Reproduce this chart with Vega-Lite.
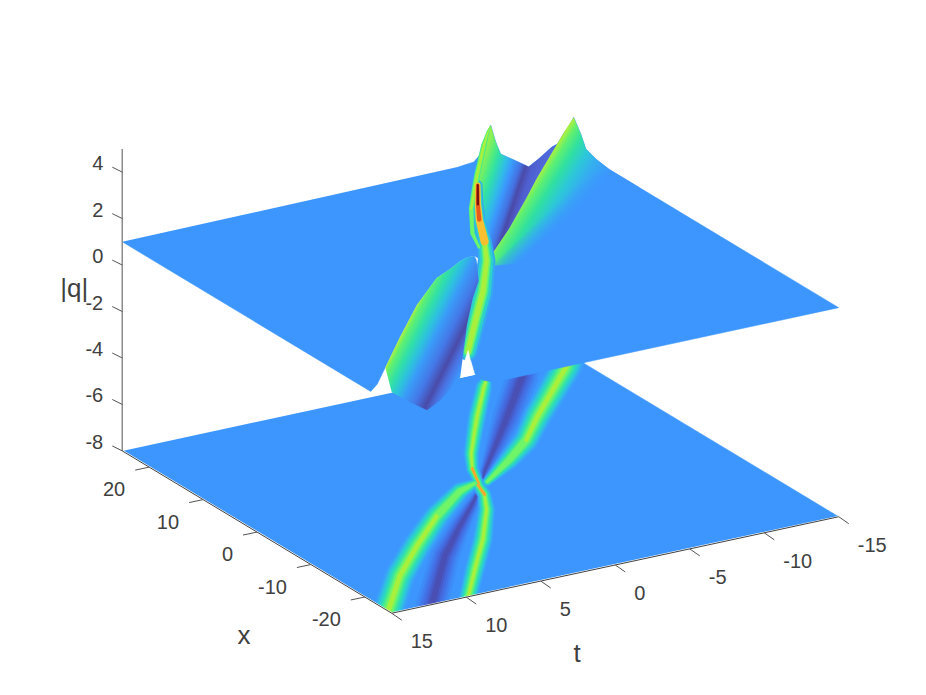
{"$schema":"https://vega.github.io/schema/vega-lite/v6.json","width":926,"height":695,"padding":0,"autosize":{"type":"fit","contains":"padding"},"background":"white","config":{"view":{"stroke":null}},
"data":{"values":[
{"s":"floor","i":0,"t":15,"x":25,"q":-8},{"s":"floor","i":1,"t":15,"x":-25,"q":-8},{"s":"floor","i":2,"t":-15,"x":-25,"q":-8},{"s":"floor","i":3,"t":-15,"x":25,"q":-8},
{"s":"m1","i":0,"t":15,"x":30,"q":-8},{"s":"m1","i":1,"t":15,"x":-25,"q":-8},{"s":"m1","i":2,"t":20,"x":-25,"q":-8},{"s":"m1","i":3,"t":20,"x":30,"q":-8},
{"s":"m2","i":0,"t":20,"x":-25,"q":-8},{"s":"m2","i":1,"t":-15,"x":-25,"q":-8},{"s":"m2","i":2,"t":-15,"x":-29,"q":-8},{"s":"m2","i":3,"t":20,"x":-29,"q":-8},
{"s":"A","i":0,"t":15.3,"x":-25,"q":2.4,"w":1},{"s":"A","i":1,"t":11.53,"x":-16.9,"q":2.3,"w":0.95},{"s":"A","i":2,"t":8.25,"x":-11,"q":2.38,"w":0.9},{"s":"A","i":3,"t":4.83,"x":-5.21,"q":2.25,"w":0.8},{"s":"A","i":4,"t":1.66,"x":-0.71,"q":1.9,"w":0.6},{"s":"A","i":5,"t":0.27,"x":0.36,"q":1.8,"w":0.3},
{"s":"B","i":0,"t":9.95,"x":-25.2,"q":2.6,"w":0.6},{"s":"B","i":1,"t":7.25,"x":-19,"q":2.6,"w":0.65},{"s":"B","i":2,"t":4.42,"x":-12.66,"q":2.65,"w":0.65},{"s":"B","i":3,"t":1.79,"x":-6.09,"q":2.7,"w":0.55},{"s":"B","i":4,"t":0.67,"x":-2.61,"q":2.9,"w":0.45},{"s":"B","i":5,"t":0.3,"x":-0.6,"q":3.5,"w":0.4},{"s":"B","i":6,"t":0.25,"x":-0.2,"q":4.1,"w":0.35},{"s":"B","i":7,"t":0.22,"x":-0.1,"q":4.9,"w":0.3},
{"s":"C","i":0,"t":0.05,"x":0.15,"q":2.17,"h":3.6,"w":0.3},{"s":"C","i":1,"t":-0.84,"x":3.84,"q":2.13,"h":2.95,"w":0.42},{"s":"C","i":2,"t":-2.01,"x":7.27,"q":2.55,"w":0.5},{"s":"C","i":3,"t":-3.78,"x":11.63,"q":2.45,"w":0.55},{"s":"C","i":4,"t":-5.31,"x":15.32,"q":2.4,"w":0.6},{"s":"C","i":5,"t":-8.09,"x":21.74,"q":2.4,"w":0.55},{"s":"C","i":6,"t":-9.3,"x":24.3,"q":2.5,"w":0.25},{"s":"C","i":7,"t":-9.73,"x":25,"q":2.6,"w":0.02},
{"s":"D","i":0,"t":-0.53,"x":0.18,"q":1.5,"w":0.3},{"s":"D","i":1,"t":-3.4,"x":4.06,"q":1.95,"w":0.65},{"s":"D","i":2,"t":-5.87,"x":7.73,"q":2.4,"w":0.8},{"s":"D","i":3,"t":-8.28,"x":12.38,"q":2.3,"w":0.9},{"s":"D","i":4,"t":-13.77,"x":22.23,"q":2.25,"w":1},{"s":"D","i":5,"t":-14.9,"x":24.6,"q":2.25,"w":1},
{"s":"E","i":0,"t":12.3,"x":-25,"q":0.3,"w":1},{"s":"E","i":1,"t":7.68,"x":-14.62,"q":0.3,"w":0.9},{"s":"E","i":2,"t":4.5,"x":-8.6,"q":0.4,"w":0.65},{"s":"E","i":3,"t":1.99,"x":-4.05,"q":0.6,"w":0.4},{"s":"E","i":4,"t":0.2,"x":-0.6,"q":0.8,"w":0.1},
{"s":"F","i":0,"t":-0.6,"x":1.2,"q":0.8,"w":0.1},{"s":"F","i":1,"t":-1.2,"x":2.58,"q":0.7,"w":0.3},{"s":"F","i":2,"t":-4.06,"x":8.3,"q":0.4,"w":0.65},{"s":"F","i":3,"t":-6.79,"x":13.85,"q":0.3,"w":0.9},{"s":"F","i":4,"t":-10.78,"x":22.13,"q":0.3,"w":1},{"s":"F","i":5,"t":-12,"x":25,"q":0.3,"w":1},
{"s":"plate","i":0,"t":15,"x":25,"q":1},{"s":"plate","i":1,"t":15,"x":-21.1,"q":1},{"s":"plate","i":2,"t":15,"x":-22.3,"q":1.48},{"s":"plate","i":3,"t":15,"x":-23.8,"q":2.41},{"s":"plate","i":4,"t":11.53,"x":-16.9,"q":2.26},{"s":"plate","i":5,"t":8.25,"x":-11,"q":2.38},{"s":"plate","i":6,"t":4.83,"x":-5.21,"q":2.26},{"s":"plate","i":6.5,"t":3.13,"x":-3.01,"q":2.1},{"s":"plate","i":7,"t":1.66,"x":-0.71,"q":1.9},{"s":"plate","i":7.5,"t":0.85,"x":0.17,"q":1.85},{"s":"plate","i":8,"t":0.27,"x":0.36,"q":1.79},{"s":"plate","i":9,"t":1.79,"x":-6.09,"q":2.6},{"s":"plate","i":10,"t":4.42,"x":-12.66,"q":2.68},{"s":"plate","i":11,"t":7.25,"x":-19,"q":2.6},{"s":"plate","i":12,"t":9.87,"x":-25,"q":2.6},{"s":"plate","i":13,"t":9.4,"x":-25,"q":1.51},{"s":"plate","i":14,"t":8.86,"x":-25,"q":1.18},{"s":"plate","i":15,"t":8.19,"x":-25,"q":1},{"s":"plate","i":16,"t":-15,"x":-25,"q":1},{"s":"plate","i":17,"t":-15,"x":17.6,"q":1},{"s":"plate","i":18,"t":-15,"x":20.06,"q":1.1},{"s":"plate","i":19,"t":-15,"x":21.9,"q":1.27},{"s":"plate","i":20,"t":-15,"x":22.85,"q":1.79},{"s":"plate","i":21,"t":-14.94,"x":24,"q":2.36},{"s":"plate","i":22,"t":-14.43,"x":25,"q":1.22},{"s":"plate","i":23,"t":-13.83,"x":25,"q":1.09},{"s":"plate","i":24,"t":-12.95,"x":25,"q":0.7},{"s":"plate","i":25,"t":-12.28,"x":25,"q":0.45},{"s":"plate","i":26,"t":-11.41,"x":25,"q":0.83},{"s":"plate","i":27,"t":-10.4,"x":25,"q":1.26},{"s":"plate","i":28,"t":-10.07,"x":25,"q":1.82},{"s":"plate","i":29,"t":-9.73,"x":25,"q":2.6},{"s":"plate","i":30,"t":-9.06,"x":25,"q":1.45},{"s":"plate","i":31,"t":-8.59,"x":25,"q":1.17},{"s":"plate","i":32,"t":-7.58,"x":25,"q":1.1},
{"s":"swS","i":0,"t":-9.73,"x":25,"q":2.6},{"s":"swS","i":1,"t":-8.09,"x":21.74,"q":2.4},{"s":"swS","i":2,"t":-5.31,"x":15.32,"q":2.4},{"s":"swS","i":3,"t":-3.78,"x":11.63,"q":2.45},{"s":"swS","i":4,"t":-2.01,"x":7.27,"q":2.55},{"s":"swS","i":5,"t":-0.84,"x":3.84,"q":2.13},{"s":"swS","i":6,"t":-0.29,"x":0.33,"q":1.5},{"s":"swS","i":7,"t":-0.53,"x":0.18,"q":1.5},{"s":"swS","i":8,"t":-3.4,"x":4.06,"q":1.95},{"s":"swS","i":9,"t":-5.87,"x":7.73,"q":2.4},{"s":"swS","i":10,"t":-8.28,"x":12.38,"q":2.3},{"s":"swS","i":11,"t":-13.77,"x":22.23,"q":2.25},{"s":"swS","i":12,"t":-14.43,"x":25,"q":1.22},{"s":"swS","i":13,"t":-13.83,"x":25,"q":1.09},{"s":"swS","i":14,"t":-12.95,"x":25,"q":0.7},{"s":"swS","i":15,"t":-12.28,"x":25,"q":0.45},{"s":"swS","i":16,"t":-11.41,"x":25,"q":0.83},{"s":"swS","i":17,"t":-10.4,"x":25,"q":1.26},{"s":"swS","i":18,"t":-10.07,"x":25,"q":1.82},
{"s":"swD","i":0,"t":-14.94,"x":24,"q":2.36},{"s":"swD","i":1,"t":-15,"x":22.85,"q":1.79},{"s":"swD","i":2,"t":-15,"x":21.9,"q":1.27},{"s":"swD","i":3,"t":-15,"x":20.06,"q":1.1},{"s":"swD","i":4,"t":-15,"x":17.6,"q":1},{"s":"swD","i":5,"t":-15,"x":12.06,"q":1},{"s":"swD","i":6,"t":-5.13,"x":-0.58,"q":1},{"s":"swD","i":7,"t":-1.18,"x":1.5,"q":1},{"s":"swD","i":8,"t":-0.53,"x":0.18,"q":1.5},{"s":"swD","i":9,"t":-3.4,"x":4.06,"q":1.95},{"s":"swD","i":10,"t":-5.87,"x":7.73,"q":2.4},{"s":"swD","i":11,"t":-8.28,"x":12.38,"q":2.3},{"s":"swD","i":12,"t":-13.77,"x":22.23,"q":2.25},
{"s":"fade","i":0,"t":-14.17,"x":18.59,"q":1},{"s":"fade","i":1,"t":-15,"x":12.06,"q":1},{"s":"fade","i":2,"t":-3.67,"x":-4.64,"q":1},{"s":"fade","i":3,"t":-0.75,"x":0.69,"q":1},
{"s":"swA","i":0,"t":15,"x":-23.8,"q":2.41},{"s":"swA","i":1,"t":11.53,"x":-16.9,"q":2.26},{"s":"swA","i":2,"t":8.25,"x":-11,"q":2.38},{"s":"swA","i":3,"t":4.83,"x":-5.21,"q":2.26},{"s":"swA","i":3.5,"t":3.13,"x":-3.01,"q":2.1},{"s":"swA","i":4,"t":1.66,"x":-0.71,"q":1.9},{"s":"swA","i":4.5,"t":0.85,"x":0.17,"q":1.85},{"s":"swA","i":5,"t":0.27,"x":0.36,"q":1.79},{"s":"swA","i":6,"t":0.9,"x":-1.76,"q":2},{"s":"swA","i":7,"t":2.51,"x":-6.6,"q":2},{"s":"swA","i":8,"t":4.18,"x":-10.14,"q":2},{"s":"swA","i":9,"t":6.67,"x":-15.93,"q":2},{"s":"swA","i":10,"t":10.37,"x":-24.9,"q":1.5},{"s":"swA","i":11,"t":10.54,"x":-25,"q":1.41},{"s":"swA","i":12,"t":11.74,"x":-25,"q":0.72},{"s":"swA","i":13,"t":12.62,"x":-25,"q":0.41},{"s":"swA","i":14,"t":13.76,"x":-25,"q":0.91},{"s":"swA","i":15,"t":15,"x":-25,"q":1.51},
{"s":"gap","i":0,"t":-7.58,"x":25,"q":-8},{"s":"gap","i":1,"t":9.87,"x":-25,"q":2.6},{"s":"gap","i":2,"t":-8.59,"x":25,"q":-8},
{"s":"zaxis","i":0,"t":15,"x":25,"q":-8},{"s":"zaxis","i":1,"t":15,"x":25,"q":5},
{"s":"xaxis","i":0,"t":15,"x":25,"q":-8},{"s":"xaxis","i":1,"t":15,"x":-25,"q":-8},
{"s":"taxis","i":0,"t":15,"x":-25,"q":-8},{"s":"taxis","i":1,"t":-15,"x":-25,"q":-8},
{"s":"zt","t":15,"x":25,"q":4,"l":"4"},{"s":"zt","t":15,"x":25,"q":2,"l":"2"},{"s":"zt","t":15,"x":25,"q":0,"l":"0"},{"s":"zt","t":15,"x":25,"q":-2,"l":"-2"},{"s":"zt","t":15,"x":25,"q":-4,"l":"-4"},{"s":"zt","t":15,"x":25,"q":-6,"l":"-6"},{"s":"zt","t":15,"x":25,"q":-8,"l":"-8"},
{"s":"xt","t":15,"x":20,"q":-8,"l":"20"},{"s":"xt","t":15,"x":10,"q":-8,"l":"10"},{"s":"xt","t":15,"x":0,"q":-8,"l":"0"},{"s":"xt","t":15,"x":-10,"q":-8,"l":"-10"},{"s":"xt","t":15,"x":-20,"q":-8,"l":"-20"},
{"s":"tt","t":15,"x":-25,"q":-8,"l":"15"},{"s":"tt","t":10,"x":-25,"q":-8,"l":"10"},{"s":"tt","t":5,"x":-25,"q":-8,"l":"5"},{"s":"tt","t":0,"x":-25,"q":-8,"l":"0"},{"s":"tt","t":-5,"x":-25,"q":-8,"l":"-5"},{"s":"tt","t":-10,"x":-25,"q":-8,"l":"-10"},{"s":"tt","t":-15,"x":-25,"q":-8,"l":"-15"},
{"s":"title","t":15,"x":25,"q":-0.95,"l":"|q|","a":"z"},{"s":"title","t":15,"x":0,"q":-8,"l":"x","a":"x"},{"s":"title","t":2.5,"x":-25,"q":-8,"l":"t","a":"t"}
]},
"transform":[{"calculate":"480.5-14.9*datum.t-5.39*datum.x","as":"sx"},{"calculate":"487.3+3.24*datum.t-3.27*datum.x","as":"fy"},{"calculate":"datum.fy-23.4*(datum.q+8)","as":"ty"},{"calculate":"datum.h||datum.q","as":"hh"}],
"encoding":{"x":{"field":"sx","type":"quantitative","scale":{"domain":[0,926]},"axis":null},"order":{"field":"i"}},
"layer":[
{"transform":[{"filter":"datum.s=='floor'"}],"mark":{"type":"line","fill":"#3c96fe","stroke":"#3c96fe","strokeWidth":0.5},"encoding":{"y":{"field":"ty","type":"quantitative","scale":{"domain":[695,0]},"axis":null}}},
{"transform":[{"filter":"datum.s=='E'||datum.s=='F'"},{"calculate":"datum.w*32","as":"k32"}],"mark":{"type":"trail","color":"#3e8cf8"},"encoding":{"y":{"field":"fy","type":"quantitative"},"detail":{"field":"s"},"size":{"field":"k32","type":"quantitative","scale":null}}},
{"transform":[{"filter":"datum.s=='E'||datum.s=='F'"},{"calculate":"datum.w*26","as":"k26"}],"mark":{"type":"trail","color":"#4080f0"},"encoding":{"y":{"field":"fy","type":"quantitative"},"detail":{"field":"s"},"size":{"field":"k26","type":"quantitative","scale":null}}},
{"transform":[{"filter":"datum.s=='E'||datum.s=='F'"},{"calculate":"datum.w*21","as":"k21"}],"mark":{"type":"trail","color":"#4274e8"},"encoding":{"y":{"field":"fy","type":"quantitative"},"detail":{"field":"s"},"size":{"field":"k21","type":"quantitative","scale":null}}},
{"transform":[{"filter":"datum.s=='E'||datum.s=='F'"},{"calculate":"datum.w*16","as":"k16"}],"mark":{"type":"trail","color":"#4568dc"},"encoding":{"y":{"field":"fy","type":"quantitative"},"detail":{"field":"s"},"size":{"field":"k16","type":"quantitative","scale":null}}},
{"transform":[{"filter":"datum.s=='E'||datum.s=='F'"},{"calculate":"datum.w*11","as":"k11"}],"mark":{"type":"trail","color":"#475bc8"},"encoding":{"y":{"field":"fy","type":"quantitative"},"detail":{"field":"s"},"size":{"field":"k11","type":"quantitative","scale":null}}},
{"transform":[{"filter":"datum.s=='E'||datum.s=='F'"},{"calculate":"datum.w*6","as":"k6"}],"mark":{"type":"trail","color":"#4a4fb4"},"encoding":{"y":{"field":"fy","type":"quantitative"},"detail":{"field":"s"},"size":{"field":"k6","type":"quantitative","scale":null}}},
{"transform":[{"filter":"datum.s<'E'"},{"calculate":"datum.w*32","as":"k32"}],"mark":{"type":"trail","color":"#3a9ffa"},"encoding":{"y":{"field":"fy","type":"quantitative"},"detail":{"field":"s"},"size":{"field":"k32","type":"quantitative","scale":null}}},
{"transform":[{"filter":"datum.s<'E'"},{"calculate":"datum.w*28","as":"k28"}],"mark":{"type":"trail","color":"#36adf0"},"encoding":{"y":{"field":"fy","type":"quantitative"},"detail":{"field":"s"},"size":{"field":"k28","type":"quantitative","scale":null}}},
{"transform":[{"filter":"datum.s<'E'"},{"calculate":"datum.w*25","as":"k25"}],"mark":{"type":"trail","color":"#30bfe2"},"encoding":{"y":{"field":"fy","type":"quantitative"},"detail":{"field":"s"},"size":{"field":"k25","type":"quantitative","scale":null}}},
{"transform":[{"filter":"datum.s<'E'"},{"calculate":"datum.w*22","as":"k22"}],"mark":{"type":"trail","color":"#2dcdd2"},"encoding":{"y":{"field":"fy","type":"quantitative"},"detail":{"field":"s"},"size":{"field":"k22","type":"quantitative","scale":null}}},
{"transform":[{"filter":"datum.s<'E'"},{"calculate":"datum.w*19","as":"k19"}],"mark":{"type":"trail","color":"#2cd8c0"},"encoding":{"y":{"field":"fy","type":"quantitative"},"detail":{"field":"s"},"size":{"field":"k19","type":"quantitative","scale":null}}},
{"transform":[{"filter":"datum.s<'E'"},{"calculate":"datum.w*16.5","as":"k165"}],"mark":{"type":"trail","color":"#34e0ac"},"encoding":{"y":{"field":"fy","type":"quantitative"},"detail":{"field":"s"},"size":{"field":"k165","type":"quantitative","scale":null}}},
{"transform":[{"filter":"datum.s<'E'"},{"calculate":"datum.w*14","as":"k14"}],"mark":{"type":"trail","color":"#40e898"},"encoding":{"y":{"field":"fy","type":"quantitative"},"detail":{"field":"s"},"size":{"field":"k14","type":"quantitative","scale":null}}},
{"transform":[{"filter":"datum.s<'E'"},{"calculate":"datum.w*11.5","as":"k115"}],"mark":{"type":"trail","color":"#56ee80"},"encoding":{"y":{"field":"fy","type":"quantitative"},"detail":{"field":"s"},"size":{"field":"k115","type":"quantitative","scale":null}}},
{"transform":[{"filter":"datum.s<'E'"},{"calculate":"datum.w*9","as":"k9"}],"mark":{"type":"trail","color":"#70f468"},"encoding":{"y":{"field":"fy","type":"quantitative"},"detail":{"field":"s"},"size":{"field":"k9","type":"quantitative","scale":null}}},
{"transform":[{"filter":"datum.s<'E'&&datum.hh>=2.2"},{"calculate":"datum.w*5","as":"k5"}],"mark":{"type":"trail","color":"#a8f03c"},"encoding":{"y":{"field":"fy","type":"quantitative"},"detail":{"field":"s"},"size":{"field":"k5","type":"quantitative","scale":null}}},
{"transform":[{"filter":"datum.s<'E'&&datum.hh>=2.85"},{"calculate":"datum.w*7","as":"k7"}],"mark":{"type":"trail","color":"#f4a830"},"encoding":{"y":{"field":"fy","type":"quantitative"},"detail":{"field":"s"},"size":{"field":"k7","type":"quantitative","scale":null}}},
{"transform":[{"filter":"datum.s=='m1'"}],"mark":{"type":"line","fill":"white","stroke":"white"},"encoding":{"y":{"field":"ty","type":"quantitative"}}},
{"transform":[{"filter":"datum.s=='m2'"}],"mark":{"type":"line","fill":"white","stroke":"white"},"encoding":{"y":{"field":"ty","type":"quantitative"}}},
{"transform":[{"filter":"datum.s=='plate'"}],"mark":{"type":"line","fill":"#3c96fe","stroke":"#3c96fe","strokeWidth":0.5},"encoding":{"y":{"field":"ty","type":"quantitative"}}},
{"transform":[{"filter":"datum.s=='swS'"}],"mark":{"type":"line","strokeWidth":0,"fill":{"gradient":"linear","x1":0,"y1":0,"x2":0.9,"y2":0.43,"stops":[{"offset":0.22,"color":"#90f050"},{"offset":0.3,"color":"#50ec80"},{"offset":0.36,"color":"#30e0a8"},{"offset":0.45,"color":"#30bce8"},{"offset":0.52,"color":"#3c96fd"},{"offset":0.6,"color":"#4470e0"},{"offset":0.65,"color":"#4a4aa8"},{"offset":0.72,"color":"#4f5fd0"},{"offset":0.9,"color":"#5070e0"}]}},"encoding":{"y":{"field":"ty","type":"quantitative"}}},
{"transform":[{"filter":"datum.s=='swD'"}],"mark":{"type":"line","strokeWidth":0,"fill":{"gradient":"linear","x1":0,"y1":0,"x2":0.853,"y2":0.522,"stops":[{"offset":0.49,"color":"#a8f040"},{"offset":0.53,"color":"#60f070"},{"offset":0.6,"color":"#30e0a0"},{"offset":0.68,"color":"#2cc8d8"},{"offset":0.76,"color":"#35aef0"},{"offset":0.88,"color":"#3c96fe"}]}},"encoding":{"y":{"field":"ty","type":"quantitative"}}},
{"transform":[{"filter":"datum.s=='fade'"}],"mark":{"type":"line","strokeWidth":0,"fill":{"gradient":"linear","x1":0,"y1":0,"x2":0.777,"y2":0.63,"stops":[{"offset":0.55,"color":"rgba(60,150,254,0)"},{"offset":0.7,"color":"rgba(60,150,254,1)"}]}},"encoding":{"y":{"field":"ty","type":"quantitative"}}},
{"transform":[{"filter":"datum.s=='B'"},{"calculate":"datum.w*32","as":"k32"}],"mark":{"type":"trail","color":"#36a8f2"},"encoding":{"y":{"field":"ty","type":"quantitative"},"size":{"field":"k32","type":"quantitative","scale":null}}},
{"transform":[{"filter":"datum.s=='B'"},{"calculate":"datum.w*25","as":"k25"}],"mark":{"type":"trail","color":"#2cd0cc"},"encoding":{"y":{"field":"ty","type":"quantitative"},"size":{"field":"k25","type":"quantitative","scale":null}}},
{"transform":[{"filter":"datum.s=='B'||datum.s=='C'"},{"calculate":"datum.w*(datum.s=='C'?10:17)","as":"k17"}],"mark":{"type":"trail","color":"#40e898"},"encoding":{"y":{"field":"ty","type":"quantitative"},"detail":{"field":"s"},"size":{"field":"k17","type":"quantitative","scale":null}}},
{"transform":[{"filter":"datum.s=='B'||datum.s=='C'"},{"calculate":"datum.w*(datum.s=='C'?7.5:13)","as":"k13"}],"mark":{"type":"trail","color":"#70f468"},"encoding":{"y":{"field":"ty","type":"quantitative"},"detail":{"field":"s"},"size":{"field":"k13","type":"quantitative","scale":null}}},
{"transform":[{"filter":"(datum.s=='B'||datum.s=='C')&&datum.q>=2.2"},{"calculate":"datum.w*(datum.s=='C'?4.5:8)","as":"k8"}],"mark":{"type":"trail","color":"#a8f03c"},"encoding":{"y":{"field":"ty","type":"quantitative"},"detail":{"field":"s"},"size":{"field":"k8","type":"quantitative","scale":null}}},
{"transform":[{"filter":"datum.s=='B'&&datum.q>=2.85"},{"calculate":"datum.w*18","as":"k14b"}],"mark":{"type":"trail","color":"#f8c030"},"encoding":{"y":{"field":"ty","type":"quantitative"},"size":{"field":"k14b","type":"quantitative","scale":null}}},
{"transform":[{"filter":"datum.s=='B'&&datum.q>=3.4"},{"calculate":"datum.w*11","as":"k11"}],"mark":{"type":"trail","color":"#e85a1c"},"encoding":{"y":{"field":"ty","type":"quantitative"},"size":{"field":"k11","type":"quantitative","scale":null}}},
{"transform":[{"filter":"datum.s=='B'&&datum.q>=4"},{"calculate":"datum.w*7","as":"k7b"}],"mark":{"type":"trail","color":"#7a1010"},"encoding":{"y":{"field":"ty","type":"quantitative"},"size":{"field":"k7b","type":"quantitative","scale":null}}},
{"transform":[{"filter":"datum.s=='gap'"}],"mark":{"type":"line","fill":"white","stroke":"white","strokeWidth":0.5},"encoding":{"y":{"field":"ty","type":"quantitative"}}},
{"transform":[{"filter":"datum.s=='swA'"}],"mark":{"type":"line","strokeWidth":0,"fill":{"gradient":"linear","x1":0,"y1":0,"x2":0.865,"y2":0.712,"stops":[{"offset":0.41,"color":"#a8f040"},{"offset":0.446,"color":"#60f070"},{"offset":0.52,"color":"#30e0a8"},{"offset":0.59,"color":"#2cc4dc"},{"offset":0.66,"color":"#3a9cf8"},{"offset":0.76,"color":"#4478e8"},{"offset":0.85,"color":"#4a4aa8"},{"offset":0.91,"color":"#4a70e0"},{"offset":0.98,"color":"#3c96fe"}]}},"encoding":{"y":{"field":"ty","type":"quantitative"}}},
{"transform":[{"filter":"datum.s=='zaxis'"}],"mark":{"type":"line","stroke":"#8c8c8c","strokeWidth":1.5},"encoding":{"y":{"field":"ty","type":"quantitative"}}},
{"transform":[{"filter":"datum.s=='xaxis'||datum.s=='taxis'"}],"mark":{"type":"line","stroke":"#404040","strokeWidth":1},"encoding":{"y":{"field":"ty","type":"quantitative"},"detail":{"field":"s"}}},
{"transform":[{"filter":"datum.s=='zt'"},{"calculate":"datum.sx-10","as":"ax"},{"calculate":"datum.ty-5","as":"ay"}],"mark":{"type":"rule","stroke":"#555555","strokeWidth":1},"encoding":{"order":null,"y":{"field":"ty","type":"quantitative"},"x2":{"field":"ax"},"y2":{"field":"ay"}}},
{"transform":[{"filter":"datum.s=='xt'"},{"calculate":"datum.sx-14","as":"bx"},{"calculate":"datum.ty+3","as":"by"}],"mark":{"type":"rule","stroke":"#555555","strokeWidth":1},"encoding":{"order":null,"y":{"field":"ty","type":"quantitative"},"x2":{"field":"bx"},"y2":{"field":"by"}}},
{"transform":[{"filter":"datum.s=='tt'"},{"calculate":"datum.sx+10","as":"cx"},{"calculate":"datum.ty+7","as":"cy"}],"mark":{"type":"rule","stroke":"#555555","strokeWidth":1},"encoding":{"order":null,"y":{"field":"ty","type":"quantitative"},"x2":{"field":"cx"},"y2":{"field":"cy"}}},
{"transform":[{"filter":"datum.s=='zt'"}],"mark":{"type":"text","align":"right","baseline":"middle","dx":-19,"dy":-8,"font":"Liberation Sans","fontSize":20,"color":"#404040"},"encoding":{"order":null,"y":{"field":"ty","type":"quantitative"},"text":{"field":"l"}}},
{"transform":[{"filter":"datum.s=='xt'"}],"mark":{"type":"text","align":"right","baseline":"middle","dx":-24,"dy":23,"font":"Liberation Sans","fontSize":20,"color":"#404040"},"encoding":{"order":null,"y":{"field":"ty","type":"quantitative"},"text":{"field":"l"}}},
{"transform":[{"filter":"datum.s=='tt'"}],"mark":{"type":"text","align":"left","baseline":"middle","dx":19,"dy":29,"font":"Liberation Sans","fontSize":20,"color":"#404040"},"encoding":{"order":null,"y":{"field":"ty","type":"quantitative"},"text":{"field":"l"}}},
{"transform":[{"filter":"datum.s=='title'&&datum.a=='z'"}],"mark":{"type":"text","align":"center","baseline":"middle","dx":-48,"dy":2,"font":"Liberation Sans","fontSize":26,"color":"#404040"},"encoding":{"order":null,"y":{"field":"ty","type":"quantitative"},"text":{"field":"l"}}},
{"transform":[{"filter":"datum.s=='title'&&datum.a=='x'"}],"mark":{"type":"text","align":"center","baseline":"middle","dx":-13,"dy":104,"font":"Liberation Sans","fontSize":26,"color":"#404040"},"encoding":{"order":null,"y":{"field":"ty","type":"quantitative"},"text":{"field":"l"}}},
{"transform":[{"filter":"datum.s=='title'&&datum.a=='t'"}],"mark":{"type":"text","align":"center","baseline":"middle","dx":-1,"dy":81,"font":"Liberation Sans","fontSize":26,"color":"#404040"},"encoding":{"order":null,"y":{"field":"ty","type":"quantitative"},"text":{"field":"l"}}}
]}
